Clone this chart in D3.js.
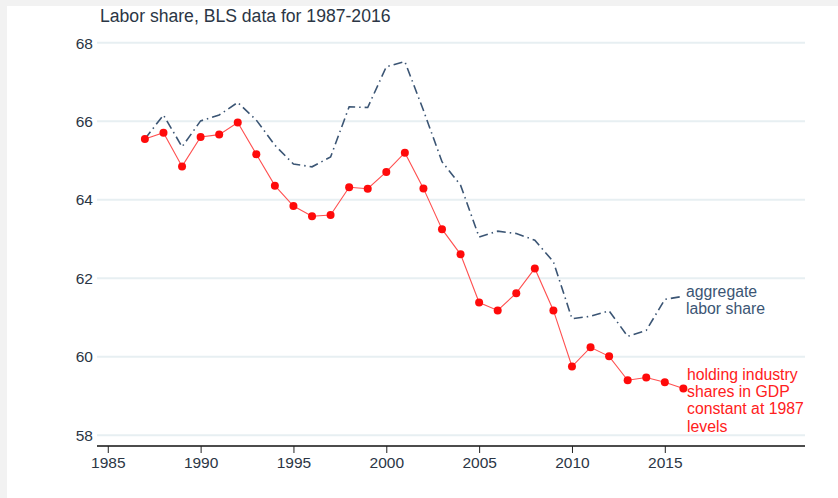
<!DOCTYPE html>
<html>
  <head>
    <meta charset="utf-8">
    <title>Labor share, BLS data for 1987-2016</title>
    <script src="https://cdn.jsdelivr.net/npm/d3@7"></script>
    <style>
      body { margin: 0; background: #f2f2f2; }
      svg { display: block; }
      text { font-family: "Liberation Sans", Arial, sans-serif; }
    </style>
  </head>
  <body>
  </body>
  <script>

    // years and the two series (percent of GDP)
    var years = d3.range(1987, 2017);

    var aggregate = [65.55, 66.16, 65.35, 66.01, 66.16, 66.48, 66.03, 65.39, 64.91, 64.84,
                     65.09, 66.37, 66.35, 67.39, 67.52, 66.28, 64.97, 64.37, 63.05, 63.20,
                     63.14, 62.97, 62.42, 60.97, 61.03, 61.17, 60.52, 60.67, 61.46, 61.54];

    var constant1987 = [65.55, 65.71, 64.85, 65.60, 65.66, 65.97, 65.16, 64.36, 63.84, 63.58,
                        63.61, 64.32, 64.28, 64.71, 65.20, 64.29, 63.25, 62.61, 61.38, 61.18,
                        61.62, 62.25, 61.18, 59.75, 60.24, 60.01, 59.40, 59.47, 59.35, 59.19];

    var yTicks = [58, 60, 62, 64, 66, 68];
    var xTicks = [1985, 1990, 1995, 2000, 2005, 2010, 2015];

    var width = 838, height = 498;

    var svg = d3.select("body").append("svg")
        .attr("width", width)
        .attr("height", height);

    // white panel on the grey page
    svg.append("rect")
        .attr("x", 7).attr("y", 6)
        .attr("width", width - 7).attr("height", height - 6)
        .attr("fill", "#ffffff");

    var x = d3.scaleLinear().domain([1984.42, 2022.55]).range([97, 805]);
    var y = d3.scaleLinear().domain([58, 68]).range([435.2, 42.8]);

    // grid lines
    svg.append("g").selectAll("line")
        .data(yTicks)
        .enter().append("line")
        .attr("x1", 97).attr("x2", 805)
        .attr("y1", function (d) { return y(d); })
        .attr("y2", function (d) { return y(d); })
        .attr("stroke", "#e7eff2")
        .attr("stroke-width", 2);

    // y labels
    svg.append("g").selectAll("text")
        .data(yTicks)
        .enter().append("text")
        .attr("x", 93)
        .attr("y", function (d) { return y(d) + 5.7; })
        .attr("text-anchor", "end")
        .attr("font-size", 15.5)
        .attr("fill", "#2b3645")
        .text(function (d) { return d; });

    // x axis
    var xAxis = d3.axisBottom(x)
        .tickValues(xTicks)
        .tickFormat(d3.format("d"))
        .tickSize(7)
        .tickPadding(4);

    var gx = svg.append("g")
        .attr("transform", "translate(0,446)")
        .call(xAxis);
    gx.select(".domain").attr("stroke", "#111").attr("stroke-width", 1.6)
        .attr("d", "M97,0H805");
    gx.selectAll(".tick line").attr("stroke", "#222");
    gx.selectAll(".tick text")
        .attr("font-size", 15.5)
        .attr("font-family", "Liberation Sans, Arial, sans-serif")
        .attr("fill", "#2b3645");

    var line = d3.line()
        .x(function (d, i) { return x(years[i]); })
        .y(function (d) { return y(d); });

    // aggregate labor share, dash-dot
    svg.append("path")
        .datum(aggregate)
        .attr("d", line)
        .attr("fill", "none")
        .attr("stroke", "#3b5574")
        .attr("stroke-width", 1.6)
        .attr("stroke-dasharray", "9,4,1.5,4");

    // constant industry shares, red with dots
    svg.append("path")
        .datum(constant1987)
        .attr("d", line)
        .attr("fill", "none")
        .attr("stroke", "#ff5050")
        .attr("stroke-width", 1.1);

    svg.append("g").selectAll("circle")
        .data(constant1987)
        .enter().append("circle")
        .attr("cx", function (d, i) { return x(years[i]); })
        .attr("cy", function (d) { return y(d); })
        .attr("r", 4)
        .attr("fill", "#ff0a0a");

    // title
    svg.append("text")
        .attr("x", 100).attr("y", 22)
        .attr("font-size", 17.6)
        .attr("fill", "#2b3645")
        .text("Labor share, BLS data for 1987-2016");

    // labels at the line ends
    var blueLab = svg.append("text")
        .attr("x", 686).attr("y", 297)
        .attr("font-size", 15.8)
        .attr("fill", "#3b5574");
    ["aggregate", "labor share"].forEach(function (s, i) {
      blueLab.append("tspan").attr("x", 686).attr("dy", i ? 16.5 : 0).text(s);
    });

    var redLab = svg.append("text")
        .attr("x", 687).attr("y", 380)
        .attr("font-size", 15.8)
        .attr("fill", "#ff2020");
    ["holding industry", "shares in GDP", "constant at 1987", "levels"].forEach(function (s, i) {
      redLab.append("tspan").attr("x", 687).attr("dy", i ? 17.2 : 0).text(s);
    });

  </script>
</html>
